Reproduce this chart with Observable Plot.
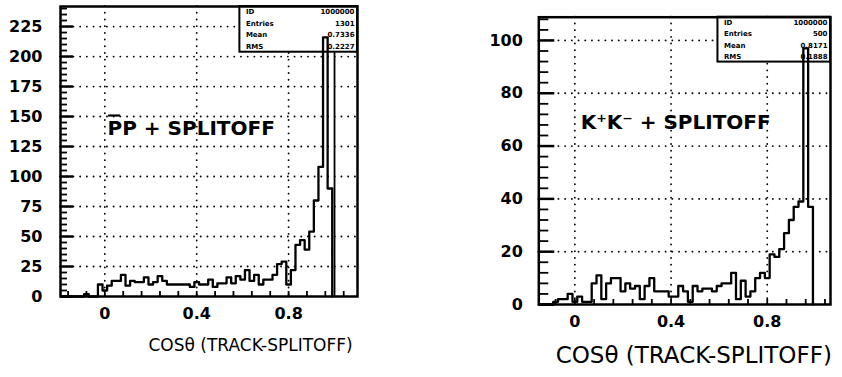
<!DOCTYPE html>
<html><head><meta charset="utf-8">
<script src="https://cdn.jsdelivr.net/npm/d3@7"></script>
<script src="https://cdn.jsdelivr.net/npm/@observablehq/plot@0.6"></script>
<style>
body{margin:0;background:#fff}
#wrap{position:relative;width:842px;height:377px;overflow:hidden;background:#fff}
#left{position:absolute;left:0;top:0}
#right{position:absolute;left:460px;top:0}
</style></head><body><div id="wrap"><div id="left"></div><div id="right"></div></div>
<script>
// ---- data ----
const binWidth = 0.02;
const leftBinStart = -0.19;
const leftCounts = [0,0,0,0,0,2,0,0,10,5,
  9,13,13,18,9,13,12,12,16,10,
  12,17,13,10,10,10,10,10,8,12,
  10,10,14,8,11,11,16,11,17,14,
  22,13,18,10,14,14,18,27,29,10,
  22,43,47,39,54,80,108,216,90];
const rightBinStart = -0.15;
const rightCounts = [0,0,0,1,2,2,4,1,3,1,
  1,8,11,2,8,10,10,5,8,6,
  7,2,7,10,5,5,5,3,3,7,
  5,1,7,5,6,6,5,7,8,8,
  12,2,9,3,5,10,12,10,19,18,
  21,27,32,37,39,97,37];
const leftYTicks = [0,25,50,75,100,125,150,175,200,225];
const leftYMinor = [5,10,15,20,30,35,40,45,55,60,65,70,80,85,90,95,105,110,115,120,130,135,140,145,155,160,165,170,180,185,190,195,205,210,215,220,230,235,240];
const rightYTicks = [0,20,40,60,80,100];
const rightYMinor = [4,8,12,16,24,28,32,36,44,48,52,56,64,68,72,76,84,88,92,96,104,108];
const xTickLabels = [0,0.4,0.8];
const xMinorTicks = [-0.16,-0.08,0,0.08,0.16,0.24,0.32,0.4,0.48,0.56,0.64,0.72,0.8,0.88,0.96,1.04];
const statNames = ["ID","Entries","Mean","RMS"];
const leftStats = ["1000000","1301","0.7336","0.2227"];
const rightStats = ["1000000","500","0.8171","0.1888"];

const FONT = "DejaVu Sans";

function steps(counts, start){
  const pts = counts.map((c,i)=>({x: start + i*binWidth, y: c}));
  pts.push({x: start + counts.length*binWidth, y: 0});
  return pts;
}

function panel(o){
  const fw = o.width - o.marginLeft - o.marginRight;
  const fh = o.height - o.marginTop - o.marginBottom;
  const dxPerPx = (o.xDomain[1]-o.xDomain[0]) / fw;
  const dyPerPx = (o.yDomain[1]-o.yDomain[0]) / fh;
  const x0 = o.xDomain[0], x1 = o.xDomain[1], y1 = o.yDomain[1];
  const rowH = (y1 - o.boxY1) / 4;
  const stats = statNames.map((n,i)=>({n, v: o.stats[i], y: y1 - (i+0.5)*rowH}));
  const dots = {stroke:"black", strokeWidth:1.8, strokeDasharray:"0.1,6.6", strokeLinecap:"round"};
  const marks = [
    Plot.ruleY(o.yTicks.filter(d=>d>0), dots),
    Plot.ruleX(xTickLabels, dots),
    Plot.rect([0], {x1: o.boxX1, x2: x1, y1: o.boxY1, y2: y1, fill:"white", stroke:"black", strokeWidth:2}),
    Plot.text(stats, {x: o.boxX1 + 6*dxPerPx, y: "y", text: "n", textAnchor:"start", fontSize:7, fontWeight:"bold", fontFamily:FONT}),
    Plot.text(stats, {x: x1 - 3*dxPerPx, y: "y", text: "v", textAnchor:"end", fontSize:7, fontWeight:"bold", fontFamily:FONT}),
  ];
  if (o.extraRule) marks.push(Plot.ruleX([o.extraRule], {y1: 0, y2: o.boxY1, stroke:"black", strokeWidth:1.8}));
  marks.push(
    Plot.line(steps(o.counts, o.binStart), {x:"x", y:"y", curve:"step-after", stroke:"black", strokeWidth:2.3}),
    Plot.ruleY(o.yTicks, {x1: x0, x2: x0 + o.majorLen*dxPerPx, stroke:"black", strokeWidth:2.5}),
    Plot.ruleY(o.yMinor, {x1: x0, x2: x0 + o.minorLen*dxPerPx, stroke:"black", strokeWidth:1.8}),
    Plot.ruleX(xMinorTicks.filter(d=>d>x0 && d<x1), {y1: 0, y2: 5*dyPerPx, stroke:"black", strokeWidth:1.8}),
    Plot.frame({stroke:"black", strokeWidth:2.5}),
    Plot.axisY(o.yTicks, {tickSize:0, tickPadding:o.yPad, fontSize:16, fontWeight:"bold", fontFamily:FONT, label:null}),
    Plot.axisX(xTickLabels, {tickSize:0, tickPadding:11, fontSize:16, fontWeight:"bold", fontFamily:FONT, label:null, tickFormat: d => d===0 ? "0" : String(d)}),
    Plot.text([o.annotation], {x: o.annX, y: o.annY, text: d=>d, textAnchor:"start", fontSize:o.annSize, fontWeight:"bold", fontFamily:FONT}),
    Plot.text([o.title], {x: o.titleX, y: 0, dy: o.titleDy, text: d=>d, textAnchor:"start", fontSize:o.titleSize, fontFamily:FONT})
  );
  // overbar on the antiproton symbol, drawn as a short rule above the first letter
  if (o.bar) marks.push(Plot.ruleY([o.annY + 13*dyPerPx], {x1: o.annX + 1*dxPerPx, x2: o.annX + 13*dxPerPx, stroke:"black", strokeWidth:2.2}));
  return Plot.plot({
    width:o.width, height:o.height,
    marginLeft:o.marginLeft, marginRight:o.marginRight, marginTop:o.marginTop, marginBottom:o.marginBottom,
    x:{domain:o.xDomain, axis:null},
    y:{domain:o.yDomain, axis:null},
    style:{fontFamily:FONT, background:"white", color:"black", overflow:"visible"},
    marks
  });
}

document.getElementById("left").append(panel({
  counts:leftCounts, binStart:leftBinStart,
  width:380, height:377, marginLeft:60, marginRight:23, marginTop:6, marginBottom:81,
  xDomain:[-0.193,1.1], yDomain:[0,241.7],
  yTicks:leftYTicks, yMinor:leftYMinor, majorLen:13, minorLen:7, yPad:18,
  boxX1:0.588, boxY1:203.6, stats:leftStats, extraRule:1.0,
  annotation:"PP + SPLITOFF", bar:true, annX:0.012, annY:140, annSize:20,
  title:"COS\u03B8 (TRACK-SPLITOFF)", titleX:0.19, titleDy:49, titleSize:17
}));

document.getElementById("right").append(panel({
  counts:rightCounts, binStart:rightBinStart,
  width:382, height:377, marginLeft:78.3, marginRight:12, marginTop:16.7, marginBottom:73,
  xDomain:[-0.15,1.063], yDomain:[0,108.8],
  yTicks:rightYTicks, yMinor:rightYMinor, majorLen:16, minorLen:10, yPad:16,
  boxX1:0.595, boxY1:91.8, stats:rightStats, extraRule:null,
  annotation:"K\u207AK\u207B + SPLITOFF", bar:false, annX:0.024, annY:69, annSize:20,
  title:"COS\u03B8 (TRACK-SPLITOFF)", titleX:-0.08, titleDy:51, titleSize:23
}));
</script>
</body></html>
